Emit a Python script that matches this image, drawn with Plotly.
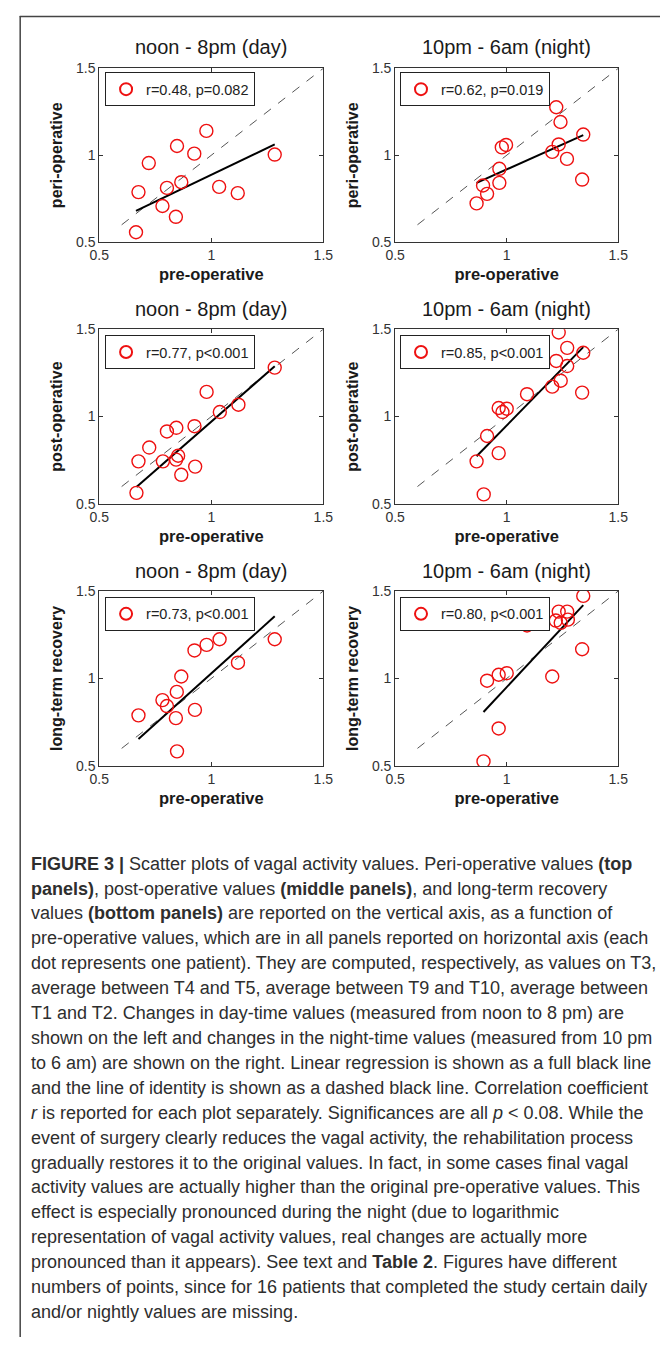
import plotly.graph_objects as go

W, H = 670, 1345

# ---------------- data ----------------
col_titles = ["noon - 8pm (day)", "10pm - 6am (night)"]
row_labels = ["peri-operative", "post-operative", "long-term recovery"]
x_label = "pre-operative"
tick_vals = [0.5, 1.0, 1.5]
tick_text = ["0.5", "1", "1.5"]
identity_line = [0.6, 1.5]

day_peri_x = [0.664, 0.675, 0.721, 0.782, 0.802, 0.842, 0.847, 0.866, 0.924, 0.978, 1.035, 1.118, 1.283]
day_peri_y = [0.557, 0.788, 0.955, 0.708, 0.812, 0.646, 1.053, 0.845, 1.009, 1.140, 0.818, 0.782, 1.004]
day_peri_fit = [0.680, 1.062]

night_peri_x = [0.865, 0.894, 0.912, 0.967, 0.967, 0.978, 0.997, 1.204, 1.222, 1.233, 1.241, 1.270, 1.343, 1.338]
night_peri_y = [0.723, 0.826, 0.778, 0.841, 0.922, 1.045, 1.059, 1.019, 1.276, 1.062, 1.191, 0.979, 1.119, 0.860]
night_peri_fit = [0.841, 1.116]

day_post_x = [0.666, 0.675, 0.723, 0.784, 0.802, 0.844, 0.852, 0.843, 0.866, 0.925, 0.928, 0.979, 1.038, 1.121, 1.283]
day_post_y = [0.564, 0.744, 0.823, 0.744, 0.915, 0.936, 0.776, 0.754, 0.667, 0.945, 0.714, 1.141, 1.026, 1.068, 1.280]
day_post_fit = [0.598, 1.288]

night_post_x = [0.865, 0.897, 0.912, 0.964, 0.964, 0.981, 1.000, 1.091, 1.204, 1.222, 1.233, 1.242, 1.271, 1.271, 1.343, 1.338]
night_post_y = [0.744, 0.555, 0.889, 0.791, 1.049, 1.026, 1.045, 1.128, 1.171, 1.318, 1.481, 1.205, 1.289, 1.393, 1.365, 1.137]
night_post_fit = [0.773, 1.397]

day_long_x = [0.675, 0.782, 0.802, 0.842, 0.846, 0.866, 0.847, 0.925, 0.927, 0.979, 1.037, 1.119, 1.283]
day_long_y = [0.789, 0.876, 0.842, 0.773, 0.923, 1.011, 0.583, 1.160, 0.820, 1.192, 1.224, 1.090, 1.224]
day_long_fit = [0.654, 1.355]

night_long_x = [0.896, 0.912, 0.964, 0.964, 1.000, 1.091, 1.204, 1.220, 1.233, 1.242, 1.271, 1.274, 1.343, 1.338]
night_long_y = [0.526, 0.987, 0.714, 1.021, 1.030, 1.303, 1.011, 1.331, 1.382, 1.318, 1.382, 1.336, 1.472, 1.167]
night_long_fit = [0.808, 1.419]

stats = ["r=0.48, p=0.082", "r=0.62, p=0.019",
         "r=0.77, p&lt;0.001", "r=0.85, p&lt;0.001",
         "r=0.73, p&lt;0.001", "r=0.80, p&lt;0.001"]

caption_lines = [
    "<b>FIGURE 3 |</b> Scatter plots of vagal activity values. Peri-operative values <b>(top</b>",
    "<b>panels)</b>, post-operative values <b>(middle panels)</b>, and long-term recovery",
    "values <b>(bottom panels)</b> are reported on the vertical axis, as a function of",
    "pre-operative values, which are in all panels reported on horizontal axis (each",
    "dot represents one patient). They are computed, respectively, as values on T3,",
    "average between T4 and T5, average between T9 and T10, average between",
    "T1 and T2. Changes in day-time values (measured from noon to 8 pm) are",
    "shown on the left and changes in the night-time values (measured from 10 pm",
    "to 6 am) are shown on the right. Linear regression is shown as a full black line",
    "and the line of identity is shown as a dashed black line. Correlation coefficient",
    "<i>r</i> is reported for each plot separately. Significances are all <i>p</i> &lt; 0.08. While the",
    "event of surgery clearly reduces the vagal activity, the rehabilitation process",
    "gradually restores it to the original values. In fact, in some cases final vagal",
    "activity values are actually higher than the original pre-operative values. This",
    "effect is especially pronounced during the night (due to logarithmic",
    "representation of vagal activity values, real changes are actually more",
    "pronounced than it appears). See text and <b>Table 2</b>. Figures have different",
    "numbers of points, since for 16 patients that completed the study certain daily",
    "and/or nightly values are missing.",
]

panels = [
    (day_peri_x, day_peri_y, day_peri_fit),
    (night_peri_x, night_peri_y, night_peri_fit),
    (day_post_x, day_post_y, day_post_fit),
    (night_post_x, night_post_y, night_post_fit),
    (day_long_x, day_long_y, day_long_fit),
    (night_long_x, night_long_y, night_long_fit),
]

# ---------------- layout geometry (pixels) ----------------
col_px = [(92, 323), (397, 627)]
row_px = [(61, 237), (325, 502), (590, 767)]
title_py = [39, 305, 570]
legend_px = [98, 402]
legend_py = [65, 331, 596]

FONT = "Liberation Sans, Arial, Helvetica, sans-serif"
INK = "#1a1a1a"


def px_x(p):
    return p / W


def px_y(p):
    return 1 - p / H


fig = go.Figure()
layout = dict(
    width=W, height=H,
    margin=dict(l=0, r=0, t=0, b=0),
    paper_bgcolor="white", plot_bgcolor="white",
    font=dict(family=FONT, color=INK),
    showlegend=True,
)
annotations = []

for i, (xs, ys, fit) in enumerate(panels):
    r, c = divmod(i, 2)
    n = i + 1
    xa = "x" if n == 1 else f"x{n}"
    ya = "y" if n == 1 else f"y{n}"
    lg = "legend" if n == 1 else f"legend{n}"

    # identity line (dashed)
    fig.add_trace(go.Scatter(
        x=identity_line, y=identity_line, mode="lines",
        line=dict(color="#555555", width=1, dash="dash"),
        xaxis=xa, yaxis=ya, showlegend=False, hoverinfo="skip"))
    # regression line
    fig.add_trace(go.Scatter(
        x=[min(xs), max(xs)], y=fit, mode="lines",
        line=dict(color="black", width=2),
        xaxis=xa, yaxis=ya, showlegend=False, hoverinfo="skip"))
    # data points
    fig.add_trace(go.Scatter(
        x=xs, y=ys, mode="markers", name=stats[i],
        marker=dict(symbol="circle-open", size=13, color="#ee1111",
                    line=dict(width=1.4, color="#ee1111")),
        xaxis=xa, yaxis=ya, legend=lg))

    axis_common = dict(
        range=[0.5, 1.5], tickvals=tick_vals, ticktext=tick_text,
        showline=True, linecolor="#333333", linewidth=1, mirror="ticks",
        ticks="inside", ticklen=4, tickcolor="#333333",
        showgrid=False, zeroline=False,
        tickfont=dict(size=14, color="#333333", family=FONT),
    )
    layout["xaxis" if n == 1 else f"xaxis{n}"] = dict(
        axis_common,
        domain=[px_x(col_px[c][0]), px_x(col_px[c][1])],
        anchor=ya,
        title=dict(text=f"<b>{x_label}</b>", standoff=6,
                   font=dict(size=16.5, color=INK, family=FONT)),
    )
    layout["yaxis" if n == 1 else f"yaxis{n}"] = dict(
        axis_common,
        domain=[px_y(row_px[r][1]), px_y(row_px[r][0])],
        anchor=xa,
        title=dict(text=f"<b>{row_labels[r]}</b>", standoff=9,
                   font=dict(size=16, color=INK, family=FONT)),
    )
    layout[lg] = dict(
        x=px_x(legend_px[c]), y=px_y(legend_py[r]),
        xanchor="left", yanchor="top",
        bgcolor="white", bordercolor="#222222", borderwidth=1,
        font=dict(size=14.5, color="#222222", family=FONT),
        itemsizing="constant",
    )

    # column title
    annotations.append(dict(
        text=col_titles[c], xref="paper", yref="paper",
        x=px_x(sum(col_px[c]) / 2), y=px_y(title_py[r]),
        xanchor="center", yanchor="middle", showarrow=False,
        font=dict(size=20, color=INK, family=FONT)))

# caption
cap_top = 866
cap_step = 25.2
for k, line in enumerate(caption_lines):
    annotations.append(dict(
        text=line, xref="paper", yref="paper",
        x=px_x(20), y=px_y(cap_top + k * cap_step),
        xanchor="left", yanchor="middle", showarrow=False, align="left",
        font=dict(size=18, color="#2e2e2e", family=FONT)))

layout["annotations"] = annotations
layout["shapes"] = [
    dict(type="line", xref="paper", yref="paper",
         x0=px_x(10), x1=1, y0=px_y(8.5), y1=px_y(8.5),
         line=dict(color="#444444", width=1.5)),
    dict(type="line", xref="paper", yref="paper",
         x0=px_x(10.5), x1=px_x(10.5), y0=px_y(8), y1=0,
         line=dict(color="#444444", width=1.5)),
]

fig.update_layout(**layout)
fig.write_html("out.html")
